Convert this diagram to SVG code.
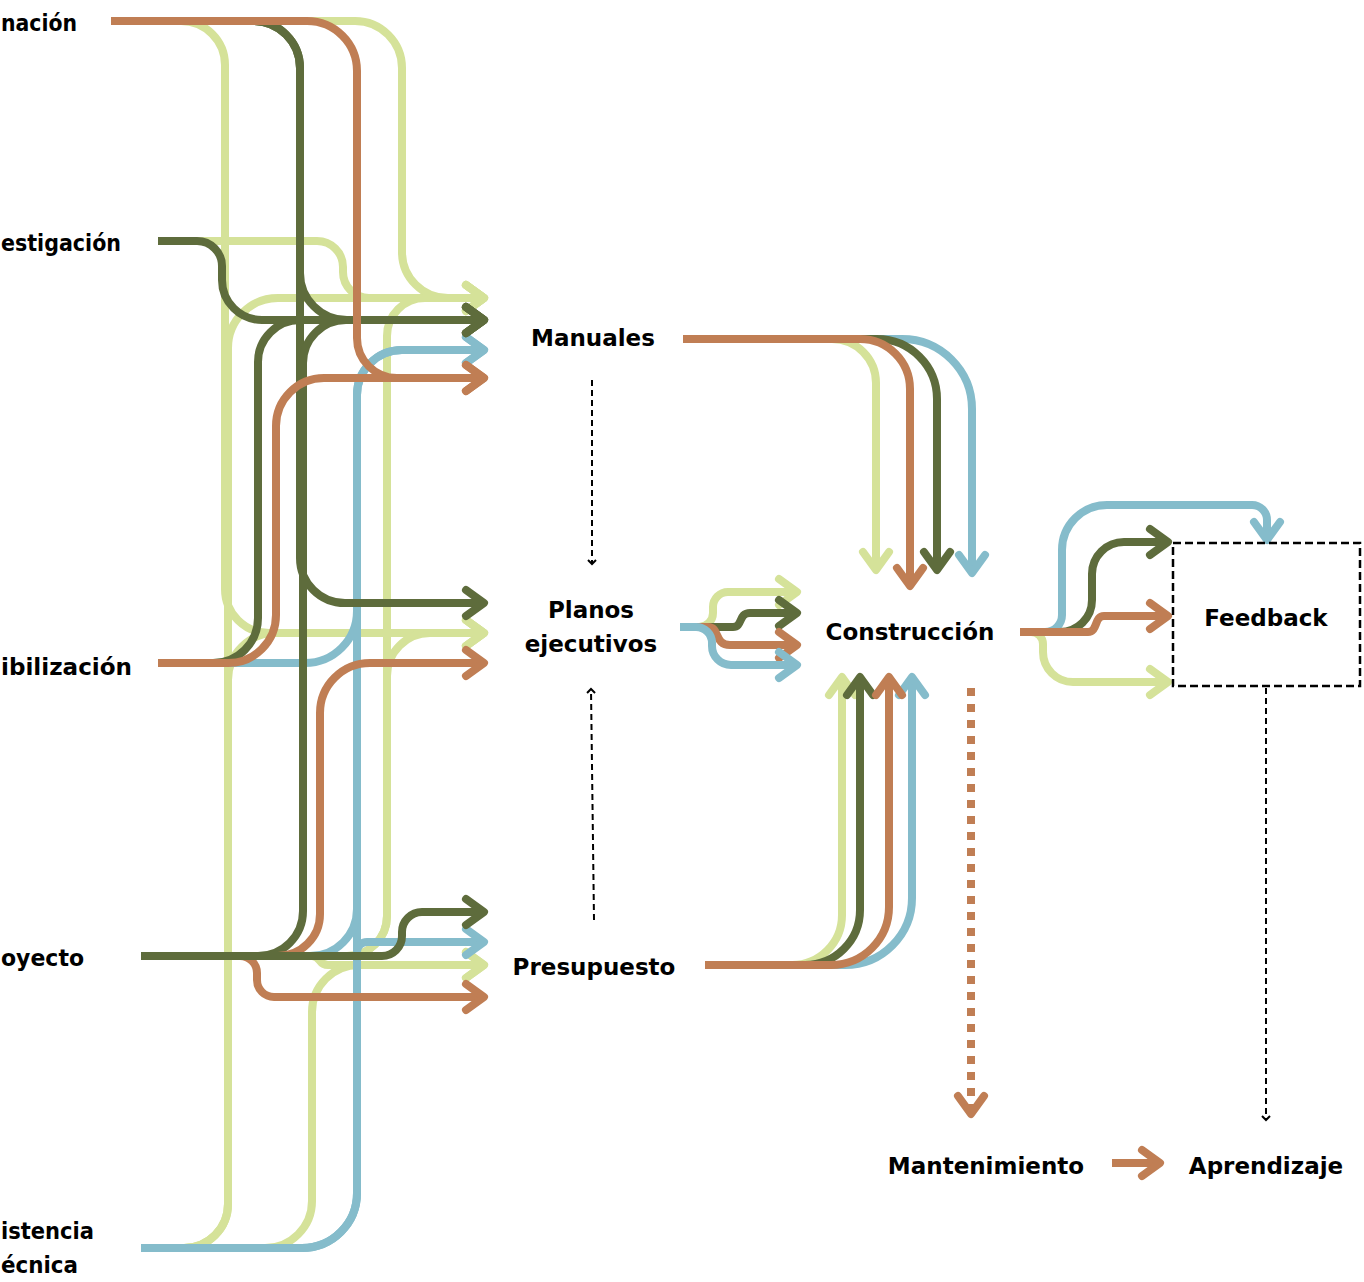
<svg xmlns="http://www.w3.org/2000/svg" width="1364" height="1282" viewBox="0 0 1364 1282">
<style>
.t{font-family:"DejaVu Sans","Liberation Sans",sans-serif;font-weight:bold;font-size:23px;fill:#000}
.l{fill:none;stroke-width:8;stroke-linecap:butt;stroke-linejoin:round}
.lg{stroke:#d5e299}.dg{stroke:#5e6c3c}.or{stroke:#c07e54}.bl{stroke:#85bccb}
.lg.m{marker-end:url(#a-lg)}.dg.m{marker-end:url(#a-dg)}.or.m{marker-end:url(#a-or)}.bl.m{marker-end:url(#a-bl)}
.k{fill:none;stroke:#000;stroke-width:2;stroke-dasharray:6 4}
</style>
<defs>
<marker id="a-lg" markerUnits="userSpaceOnUse" markerWidth="40" markerHeight="40" orient="auto" overflow="visible"><path d="M-18,-13 L0,0 L-18,13" fill="none" stroke="#d5e299" stroke-width="8" stroke-linecap="round" stroke-linejoin="round"/></marker>
<marker id="a-dg" markerUnits="userSpaceOnUse" markerWidth="40" markerHeight="40" orient="auto" overflow="visible"><path d="M-18,-13 L0,0 L-18,13" fill="none" stroke="#5e6c3c" stroke-width="8" stroke-linecap="round" stroke-linejoin="round"/></marker>
<marker id="a-or" markerUnits="userSpaceOnUse" markerWidth="40" markerHeight="40" orient="auto" overflow="visible"><path d="M-18,-13 L0,0 L-18,13" fill="none" stroke="#c07e54" stroke-width="8" stroke-linecap="round" stroke-linejoin="round"/></marker>
<marker id="a-bl" markerUnits="userSpaceOnUse" markerWidth="40" markerHeight="40" orient="auto" overflow="visible"><path d="M-18,-13 L0,0 L-18,13" fill="none" stroke="#85bccb" stroke-width="8" stroke-linecap="round" stroke-linejoin="round"/></marker>
<marker id="a-k" markerUnits="userSpaceOnUse" markerWidth="10" markerHeight="10" orient="auto" overflow="visible"><path d="M-4,-4 L0,0 L-4,4" fill="none" stroke="#000" stroke-width="2"/></marker>
</defs>

<g id="connectors">
<!-- light green -->
<path class="l lg m" d="M111,21 H355 A47,47 0 0 1 402,68 V252 A46,46 0 0 0 448,298 H484"/>
<path class="l lg m" d="M111,21 H181 A44,44 0 0 1 225,65 V589 A44,44 0 0 0 269,633 H484"/>
<path class="l lg m" d="M158,241 H317 A26,26 0 0 1 343,267 V272 A26,26 0 0 0 369,298 H484"/>
<path class="l lg m" d="M141,1248 H184 A44,44 0 0 0 228,1204 V348 A50,50 0 0 1 278,298 H484"/>
<path class="l lg m" d="M141,1248 H184 A44,44 0 0 0 228,1204 V680 A47,47 0 0 1 275,633 H484"/>
<path class="l lg m" d="M141,956 H347 A40,40 0 0 0 387,916 V336 A38,38 0 0 1 425,298 H484"/>
<path class="l lg m" d="M141,956 H347 A40,40 0 0 0 387,916 V676 A43,43 0 0 1 430,633 H484"/>
<path class="l lg m" d="M141,956 H312 C321,956 318,965 328,965 H484"/>
<path class="l lg m" d="M141,1248 H265 A47,47 0 0 0 312,1201 V1012 A47,47 0 0 1 359,965 H484"/>
<!-- blue -->
<path class="l bl m" d="M158,663 H305 A52,52 0 0 0 357,611 V395 A45,45 0 0 1 402,350 H484"/>
<path class="l bl m" d="M141,1248 H302 A55,55 0 0 0 357,1193 V395 A45,45 0 0 1 402,350 H484"/>
<path class="l bl" d="M141,956 H310 A47,47 0 0 0 357,909 V880"/>
<path class="l bl m" d="M141,1248 H302 A55,55 0 0 0 357,1193 V952 A10,10 0 0 1 367,942 H484"/>
<!-- dark green -->
<path class="l dg m" d="M111,21 H253 A47,47 0 0 1 300,68 V273 A47,47 0 0 0 347,320 H484"/>
<path class="l dg m" d="M111,21 H253 A47,47 0 0 1 300,68 V558 A45,45 0 0 0 345,603 H484"/>
<path class="l dg m" d="M141,956 H258 A45,45 0 0 0 303,911 V363 A43,43 0 0 1 346,320 H484"/>
<path class="l dg m" d="M158,663 H213 A45,45 0 0 0 258,618 V362 A42,42 0 0 1 300,320 H484"/>
<path class="l dg m" d="M158,241 H197 A25,25 0 0 1 222,266 V280 A40,40 0 0 0 262,320 H484"/>
<path class="l dg m" d="M141,956 H382 A20,20 0 0 0 402,936 V932 A20,20 0 0 1 422,912 H484"/>
<!-- orange -->
<path class="l or m" d="M111,21 H307 A50,50 0 0 1 357,71 V338 A40,40 0 0 0 397,378 H484"/>
<path class="l or m" d="M158,663 H228 A48,48 0 0 0 276,615 V426 A48,48 0 0 1 324,378 H484"/>
<path class="l or m" d="M141,956 H278 A42,42 0 0 0 320,914 V713 A50,50 0 0 1 370,663 H484"/>
<path class="l or m" d="M141,956 H240 A17,17 0 0 1 257,973 V980 A17,17 0 0 0 274,997 H484"/>
<path class="l dg" d="M141,956 H382"/>

<!-- Planos -> Construccion -->
<path class="l lg m" d="M680,627 H699 A14,14 0 0 0 713,613 V607 A15,15 0 0 1 728,592 H797"/>
<path class="l dg m" d="M680,627 H733 C743,627 738,613 750,613 H797"/>
<path class="l or m" d="M680,627 H708 C720,627 714,645 730,645 H797"/>
<path class="l bl m" d="M680,627 H696 A16,16 0 0 1 712,643 V646 A19,19 0 0 0 731,665 H797"/>

<!-- Manuales -> Construccion -->
<path class="l lg m" d="M683,339 H832 A44,44 0 0 1 876,383 V570"/>
<path class="l bl m" d="M683,339 H902 A70,70 0 0 1 972,409 V573"/>
<path class="l dg m" d="M683,339 H877 A60,60 0 0 1 937,399 V570"/>
<path class="l or m" d="M683,339 H860 A50,50 0 0 1 910,389 V586"/>

<!-- Presupuesto -> Construccion -->
<path class="l lg m" d="M705,965 H792 A50,50 0 0 0 842,915 V677"/>
<path class="l dg m" d="M705,965 H805 A55,55 0 0 0 860,910 V677"/>
<path class="l bl m" d="M705,965 H845 A67,67 0 0 0 912,898 V677"/>
<path class="l or m" d="M705,965 H831 A58,58 0 0 0 889,907 V677"/>

<!-- Construccion -> Feedback -->
<path class="l lg m" d="M1020,632 H1031 A12,12 0 0 1 1043,644 V652 A30,30 0 0 0 1073,682 H1168"/>
<path class="l bl m" d="M1020,632 H1045 A17,17 0 0 0 1062,615 V550 A45,45 0 0 1 1107,505 H1252 A15,15 0 0 1 1267,520 V540"/>
<path class="l dg m" d="M1020,632 H1060 A32,32 0 0 0 1092,600 V574 A32,32 0 0 1 1124,542 H1168"/>
<path class="l or m" d="M1020,632 H1088 C1098,632 1094,616 1104,616 H1168"/>

<!-- Construccion -> Mantenimiento (dotted) -->
<path class="l or m" d="M971,688 V1114" style="stroke-dasharray:8 8"/>
<!-- Mantenimiento -> Aprendizaje -->
<path class="l or m" d="M1112,1163 H1160"/>

<!-- black dashed -->
<path class="k" d="M592,380 V564" marker-end="url(#a-k)"/>
<path class="k" d="M594,920 L591,689" marker-end="url(#a-k)"/>
<path class="k" d="M1266,688 V1120" marker-end="url(#a-k)"/>
</g>

<g id="n-informacion"><text class="t" x="1" y="31" textLength="76" lengthAdjust="spacingAndGlyphs">nación</text></g>
<g id="n-investigacion"><text class="t" x="1" y="251" textLength="120" lengthAdjust="spacingAndGlyphs">estigación</text></g>
<g id="n-flexibilizacion"><text class="t" x="1" y="675" textLength="131" lengthAdjust="spacingAndGlyphs">ibilización</text></g>
<g id="n-proyecto"><text class="t" x="1" y="966" textLength="83" lengthAdjust="spacingAndGlyphs">oyecto</text></g>
<g id="n-asistencia"><text class="t" x="1" y="1239" textLength="93" lengthAdjust="spacingAndGlyphs">istencia</text><text class="t" x="1" y="1273" textLength="77" lengthAdjust="spacingAndGlyphs">écnica</text></g>
<g id="n-manuales"><text class="t" x="593" y="346" text-anchor="middle">Manuales</text></g>
<g id="n-planos"><text class="t" x="591" y="618" text-anchor="middle">Planos</text><text class="t" x="591" y="652" text-anchor="middle">ejecutivos</text></g>
<g id="n-presupuesto"><text class="t" x="594" y="975" text-anchor="middle">Presupuesto</text></g>
<g id="n-construccion"><text class="t" x="910" y="640" text-anchor="middle">Construcción</text></g>
<g id="n-feedback"><rect x="1173" y="543" width="187" height="143" fill="none" stroke="#000" stroke-width="2.5" stroke-dasharray="8 4"/><text class="t" x="1266" y="626" text-anchor="middle">Feedback</text></g>
<g id="n-mantenimiento"><text class="t" x="986" y="1174" text-anchor="middle">Mantenimiento</text></g>
<g id="n-aprendizaje"><text class="t" x="1266" y="1174" text-anchor="middle">Aprendizaje</text></g>
</svg>
